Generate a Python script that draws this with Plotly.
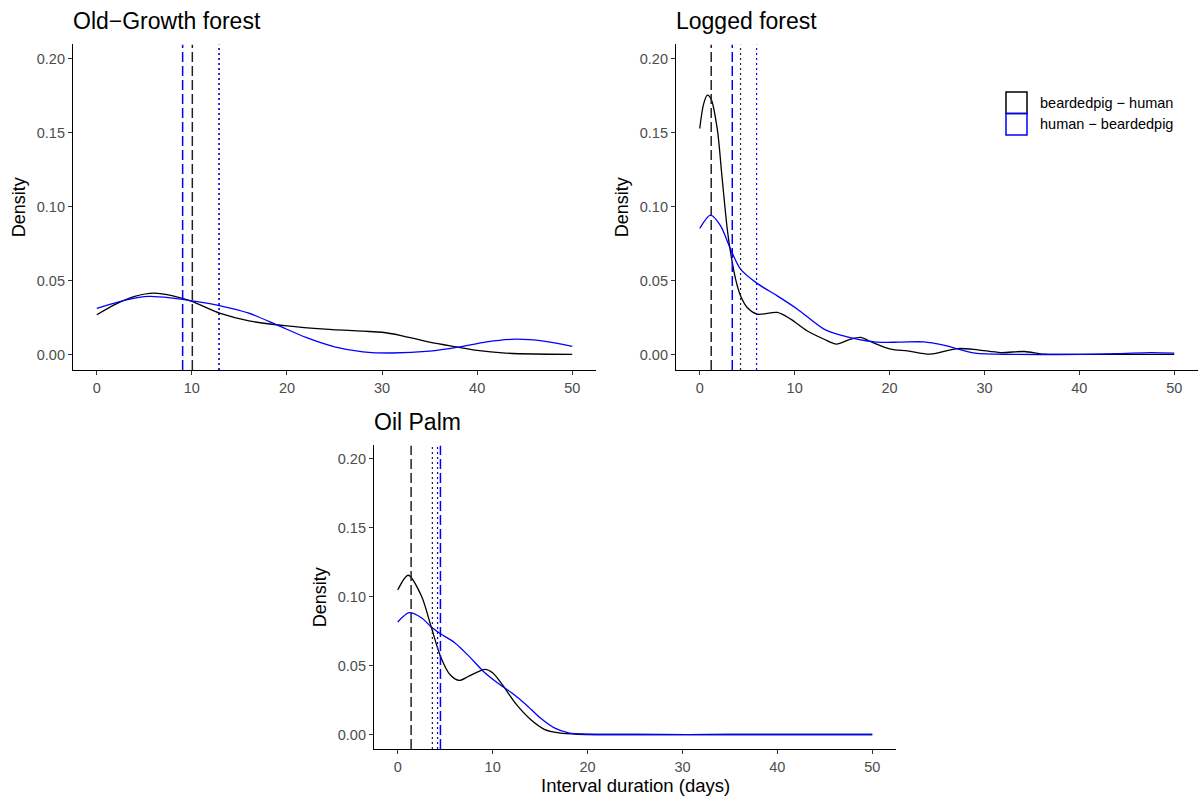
import plotly.graph_objects as go

W, H = 1200, 798

# ---------------- data ----------------
panels = ["Old−Growth forest", "Logged forest", "Oil Palm"]
series_names = ["beardedpig − human", "human − beardedpig"]
series_colors = ["black", "blue"]

# Old-Growth forest
og_bh_x = [0, 2, 4, 6, 8, 10, 13, 16, 20, 24, 28, 30, 32, 35, 38, 40, 43, 46, 50]
og_bh_y = [0.0268, 0.034, 0.0392, 0.0414, 0.0396, 0.0358, 0.0277, 0.0227, 0.0193, 0.0171,
           0.0157, 0.015, 0.0128, 0.0083, 0.0049, 0.0027, 0.0009, 0.0003, 0.0001]
og_hb_x = [0, 3, 5.5, 8, 10, 13, 16, 19, 22, 25, 28, 31, 35, 38, 41, 44, 47, 50]
og_hb_y = [0.0311, 0.0367, 0.0392, 0.038, 0.0362, 0.0329, 0.0279, 0.0198, 0.0115, 0.0052,
           0.0018, 0.001, 0.0022, 0.0049, 0.0085, 0.0103, 0.009, 0.0054]

# Logged forest
lg_bh_x = [0, 0.4, 0.8, 1.2, 1.85, 2.37, 2.9, 3.25, 3.78, 4.3, 5.0, 6.07, 8.17, 9.58, 11.3, 13.1,
           14.4, 15.9, 16.96, 18.2, 20.1, 21.9, 24.3, 27.2, 29.3, 31.7, 34.2, 36.3, 40, 45, 50]
lg_bh_y = [0.1527, 0.169, 0.1752, 0.1725, 0.1522, 0.1185, 0.0847, 0.0689, 0.0509, 0.0396, 0.0317,
           0.0272, 0.0284, 0.0239, 0.016, 0.0103, 0.007, 0.0103, 0.0115, 0.0081, 0.0036, 0.0024,
           0.0002, 0.004, 0.0031, 0.0013, 0.002, 0.0002, 0.0001, 0.0001, 0.0001]
lg_hb_x = [0, 1.14, 2.2, 3.25, 4.3, 6.0, 8.17, 10.3, 13.1, 14.85, 18.4, 21, 23.6, 25.7, 29, 33,
           40, 44, 47.5, 50]
lg_hb_y = [0.0851, 0.0941, 0.0869, 0.0711, 0.0576, 0.0482, 0.0396, 0.0306, 0.0171, 0.013, 0.0085,
           0.0083, 0.0085, 0.0063, 0.0009, 0.0001, 0.0001, 0.0005, 0.0013, 0.0009]

# Oil Palm
op_bh_x = [0, 1.1, 2.5, 3.5, 4.5, 5.5, 6.5, 7.5, 9.2, 10, 11, 12.5, 14, 15.5, 17, 19, 25, 35, 50]
op_bh_y = [0.1047, 0.1154, 0.1004, 0.0786, 0.0568, 0.0435, 0.0392, 0.0423, 0.0472, 0.0447,
           0.0363, 0.0218, 0.0109, 0.0036, 0.0012, 0.0002, 0, 0, 0]
op_hb_x = [0, 1.2, 2.5, 3.5, 4.5, 6, 7.5, 9, 10.5, 12, 13.5, 15, 16.5, 18, 20, 25, 35, 50]
op_hb_y = [0.0815, 0.0883, 0.0846, 0.0781, 0.073, 0.0665, 0.0568, 0.0459, 0.0375, 0.0302,
           0.0218, 0.0121, 0.0048, 0.0012, 0.0002, 0, 0, 0]

# reference lines: [median, mean] per series
og_bh_lines = [10.05, 12.85]
og_hb_lines = [9.03, 12.87]
lg_bh_lines = [1.21, 4.3]
lg_hb_lines = [3.43, 5.99]
op_bh_lines = [1.41, 3.65]
op_hb_lines = [4.5, 4.2]

x_ticks = [0, 10, 20, 30, 40, 50]
y_ticks = [0, 0.05, 0.10, 0.15, 0.20]
y_tick_labels = ["0.00", "0.05", "0.10", "0.15", "0.20"]

# ---------------- layout helpers ----------------
def px(x):
    return x / W

def py(y):
    return 1 - y / H

FONT = "Liberation Sans, Arial, Helvetica, sans-serif"

# panel boxes in pixels: (left, right, top, bottom)
boxes = [(73, 596, 44.4, 370), (676, 1198, 44.4, 370), (374, 896, 445.4, 749)]

fig = go.Figure()

data = [
    ((og_bh_x, og_bh_y), (og_hb_x, og_hb_y), og_bh_lines, og_hb_lines),
    ((lg_bh_x, lg_bh_y), (lg_hb_x, lg_hb_y), lg_bh_lines, lg_hb_lines),
    ((op_bh_x, op_bh_y), (op_hb_x, op_hb_y), op_bh_lines, op_hb_lines),
]

YR = [-0.0105, 0.2095]
for i, (bh, hb, bhl, hbl) in enumerate(data):
    n = "" if i == 0 else str(i + 1)
    xa, ya = "x" + n, "y" + n
    for (xs, ys), col, name in zip([bh, hb], series_colors, series_names):
        fig.add_trace(go.Scatter(x=xs, y=ys, mode="lines", xaxis=xa, yaxis=ya,
                                 line=dict(color=col, width=1.3, shape="spline", smoothing=0.8),
                                 name=name, showlegend=False, hoverinfo="skip"))
    # vertical lines: black first, blue on top
    for lines, col in [(bhl, "#222222"), (hbl, "blue")]:
        med, mean = lines
        fig.add_trace(go.Scatter(x=[mean, mean], y=YR, mode="lines", xaxis=xa, yaxis=ya,
                                 line=dict(color=col, width=1.2, dash="2px,3px"),
                                 showlegend=False, hoverinfo="skip"))
        fig.add_trace(go.Scatter(x=[med, med], y=YR, mode="lines", xaxis=xa, yaxis=ya,
                                 line=dict(color=col, width=1.5, dash="10px,4px"),
                                 showlegend=False, hoverinfo="skip"))

    l, r, t, b = boxes[i]
    axis_common = dict(showline=True, linecolor="black", linewidth=1.2, ticks="outside",
                       ticklen=4, tickwidth=1.1, tickcolor="#333333", showgrid=False,
                       zeroline=False, tickfont=dict(family=FONT, size=14.5, color="#4D4D4D"),
                       fixedrange=True)
    fig.update_layout(**{
        "xaxis" + n: dict(domain=[px(l), px(r)], range=[-2.5, 52.5], anchor=ya,
                          tickvals=x_ticks, **axis_common),
        "yaxis" + n: dict(domain=[py(b), py(t)], range=YR, anchor=xa,
                          tickvals=y_ticks, ticktext=y_tick_labels, **axis_common),
    })
    # panel title
    fig.add_annotation(x=px(l - 2), y=py(t - 23), xref="paper", yref="paper", text=panels[i],
                       showarrow=False, xanchor="left", yanchor="middle",
                       font=dict(family=FONT, size=23, color="black"))
    # y-axis title
    fig.add_annotation(x=px(l - 54), y=py((t + b) / 2), xref="paper", yref="paper",
                       text="Density", textangle=-90, showarrow=False,
                       xanchor="center", yanchor="middle",
                       font=dict(family=FONT, size=18, color="black"))

# x-axis title (bottom panel only)
fig.add_annotation(x=px((374 + 896) / 2), y=py(785), xref="paper", yref="paper",
                   text="Interval duration (days)", showarrow=False,
                   xanchor="center", yanchor="middle",
                   font=dict(family=FONT, size=18.5, color="black"))

# legend (drawn manually, ggplot style outlined keys)
key_tops = [92, 113.5]
for k, (name, col) in enumerate(zip(series_names, series_colors)):
    top = key_tops[k]
    fig.add_shape(type="rect", xref="paper", yref="paper",
                  x0=px(1006), x1=px(1027), y0=py(top + 21.5), y1=py(top),
                  line=dict(color=col, width=1.5), fillcolor="rgba(0,0,0,0)")
    fig.add_annotation(x=px(1038), y=py(top + 11), xref="paper", yref="paper", text=name,
                       showarrow=False, xanchor="left", yanchor="middle",
                       font=dict(family=FONT, size=14.5, color="black"))

fig.update_layout(width=W, height=H, margin=dict(l=0, r=0, t=0, b=0),
                  plot_bgcolor="white", paper_bgcolor="white", showlegend=False,
                  font=dict(family=FONT))

fig.write_html("out.html")
